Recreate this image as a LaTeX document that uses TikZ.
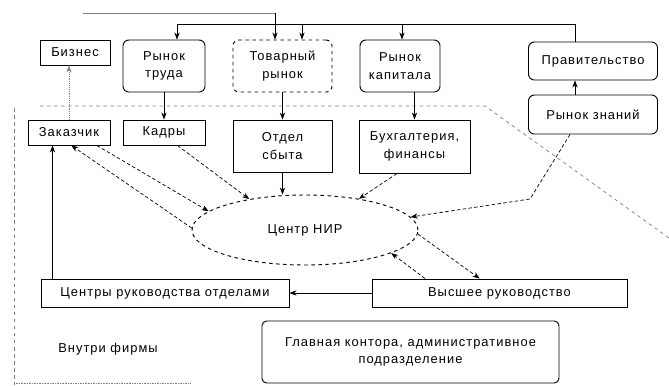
\documentclass[tikz,border=0pt]{standalone}
\usepackage{fontspec}
\setmainfont{Liberation Sans}[LetterSpace=8]
\usetikzlibrary{arrows.meta,calc,positioning,shapes.geometric}
\tikzset{
  box/.style={draw, thick, align=center},
  market/.style={box, rounded corners=5pt},
  link/.style={-{Stealth[length=6pt]}, semithick},
  dash link/.style={link, densely dashed},
  border/.style={gray, dashed, semithick},
}

\begin{document}
\begin{tikzpicture}[x=0.03cm, y=-0.03cm, font=\fontsize{11}{15}\selectfont]
  \useasboundingbox (0,0) rectangle (669,385);

  % Border of the firm
  \draw[border] (14,108) -- (14,385);
  \draw[border] (40,106) -- (485,106) -- (669,238);
  \draw[gray, densely dotted] (14,383) -- (190,383);

  % Outside: markets and government
  \node[box, minimum width=2.1cm, minimum height=0.75cm] (biz) at (75,52.5) {Бизнес};
  \node[market, minimum width=2.46cm, minimum height=1.56cm] (trud) at (164,66) {Рынок\\труда};
  \node[market, dashed, minimum width=2.97cm, minimum height=1.56cm] (tovar) at (282.5,66) {Товарный\\рынок};
  \node[market, minimum width=2.4cm, minimum height=1.56cm] (kapital) at (400,66) {Рынок\\капитала};
  \node[market, minimum width=3.87cm, minimum height=1.14cm] (prav) at (593,61) {Правительство};
  \node[market, minimum width=3.87cm, minimum height=1.17cm] (znan) at (593,114.5) {Рынок знаний};

  % Inside: departments
  \node[box, minimum width=2.46cm, minimum height=0.75cm] (zakaz) at (69,132.5) {Заказчик};
  \node[box, minimum width=2.46cm, minimum height=0.75cm] (kadry) at (164,132.5) {Кадры};
  \node[box, minimum width=2.97cm, minimum height=1.56cm] (sbyt) at (282.5,146) {Отдел\\сбыта};
  \node[box, minimum width=3.33cm, minimum height=1.59cm] (buh) at (414.5,146.5) {Бухгалтерия,\\финансы};
  \node[ellipse, draw, thick, dashed, minimum width=6.78cm, minimum height=2.1cm] (centr) at (305,230) {Центр НИР};
  \node[box, minimum width=7.44cm, minimum height=0.84cm] (ruk) at (165,293) {Центры руководства отделами};
  \node[box, minimum width=7.65cm, minimum height=0.84cm] (vys) at (499.5,293) {Высшее руководство};
  \node[box, rounded corners=4pt, minimum width=8.91cm, minimum height=1.86cm] (glav) at (410.5,352) {Главная контора, административное\\подразделение};
  \node (firm) at (108,349) {Внутри фирмы};

  % Top lines
  \coordinate (bus) at (575,24);
  \coordinate (bus end) at (177,24);
  \coordinate (tap tovar) at (302,24);
  \coordinate (tap kapital) at (402,24);
  \coordinate (grey start) at (83,13);
  \coordinate (grey end) at (275,13);
  \draw[thick] (prav.north -| bus) -- (bus) -- (bus end);
  \draw[link] (bus end) -- (bus end |- trud.north);
  \draw[link] (tap tovar) -- (tap tovar |- tovar.north);
  \draw[link] (tap kapital) -- (tap kapital |- kapital.north);
  \draw[gray, thick] (grey start) -- (grey end);
  \draw[link] (grey end) -- (grey end |- tovar.north);

  % Markets to departments
  \draw[link] (trud) -- (kadry);
  \draw[link] (tovar.south) -- (sbyt.north);
  \draw[link] (buh.north |- kapital.south) -- (buh.north);
  \draw[link] (znan.north -| bus) -- (prav.south -| bus);
  \draw[link, gray, densely dotted] (zakaz.north) -- (zakaz.north |- biz.south);

  % Links with the research centre
  \coordinate (knee) at (530,199);
  \draw[dash link] (zakaz.-25) -- (centr.169);
  \draw[dash link] (centr.179) -- (zakaz.-80);
  \draw[dash link] (kadry.-44) -- (centr.151);
  \draw[link] (sbyt.south) -- (sbyt.south |- centr.north);
  \draw[dash link] (buh.-123) -- (centr.30);
  \draw[dash link] (znan.-139) -- (knee) -- (centr.7);
  \draw[dash link] (vys.169) -- (centr.-15);
  \draw[dash link] (centr.-2) -- (vys.144);

  % Management
  \coordinate (ruk tap) at ([xshift=0.36cm]ruk.north west);
  \draw[link] (vys.west) -- (ruk.east);
  \draw[link] (ruk tap) -- (ruk tap |- zakaz.south);
\end{tikzpicture}
\end{document}
